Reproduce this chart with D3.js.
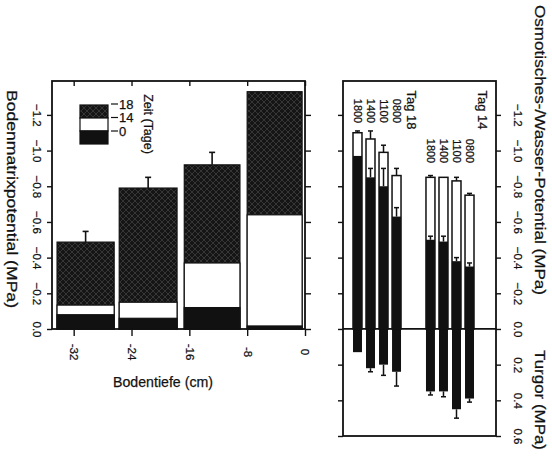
<!DOCTYPE html>
<html>
<head>
<meta charset="utf-8">
<script src="https://cdn.jsdelivr.net/npm/d3@7"></script>
<style>
  body { margin: 0; background: #fff; }
  text { font-family: "Liberation Sans", Arial, sans-serif; fill: #111; stroke: #111; stroke-width: 0.25px; }
</style>
</head>
<body>
<svg id="chart" width="552" height="459"></svg>
<script>
// ---- data: soil matric potential (left panel) ----
const depthTicks = [-32, -24, -16, -8, 0];
const layerTop = [-34.3, -25.7, -16.7, -8.0];
const layerBottom = [-26.4, -17.7, -9.0, -0.4];
const day0 = [-0.08, -0.06, -0.12, -0.017];
const day14 = [-0.134, -0.15, -0.37, -0.64];
const day18 = [-0.487, -0.79, -0.92, -1.33];
const day18Err = [0.06, 0.06, 0.07, 0];
const legendDays = ['18', '14', '0'];

// ---- data: osmotic / water potential and turgor (right panel) ----
const days = ['Tag 18', 'Tag 14'];
const times = ['1800', '1400', '1100', '0800'];
const osmotic = { 'Tag 18': [-1.10, -1.065, -0.99, -0.86], 'Tag 14': [-0.85, -0.85, -0.83, -0.75] };
const osmoticErr = { 'Tag 18': [0.01, 0.045, 0.04, 0.04], 'Tag 14': [0.01, 0.0, 0.02, 0.01] };
const water = { 'Tag 18': [-0.97, -0.85, -0.80, -0.63], 'Tag 14': [-0.50, -0.49, -0.38, -0.35] };
const waterErr = { 'Tag 18': [0, 0.05, 0.1, 0.05], 'Tag 14': [0.02, 0.03, 0.02, 0.02] };
const turgor = { 'Tag 18': [0.13, 0.22, 0.20, 0.24], 'Tag 14': [0.35, 0.35, 0.45, 0.39] };
const turgorErr = { 'Tag 18': [0, 0.02, 0.06, 0.08], 'Tag 14': [0.02, 0.03, 0.05, 0.02] };

const potTicks = [-1.2, -1.0, -0.8, -0.6, -0.4, -0.2, 0.0];
const rightTicks = [-1.2, -1.0, -0.8, -0.6, -0.4, -0.2, 0.0, 0.2, 0.4, 0.6];

const svg = d3.select('#chart');
const fmt = d3.format('.1f');
const ink = '#111';

// crosshatch fill used for day 18
const defs = svg.append('defs');
const pat = defs.append('pattern').attr('id', 'hatch')
    .attr('patternUnits', 'userSpaceOnUse').attr('width', 6).attr('height', 6);
pat.append('rect').attr('width', 6).attr('height', 6).attr('fill', '#151515');
pat.append('path').attr('d', 'M0,6 L6,0 M0,0 L6,6')
    .attr('stroke', '#8c8c8c').attr('stroke-width', 0.5).attr('opacity', 0.55);

function rotText(g, x, y, str, size) {
    return g.append('text')
        .attr('transform', `translate(${x},${y}) rotate(90)`)
        .attr('text-anchor', 'middle').attr('dy', '0.35em')
        .attr('font-size', size).text(str);
}

function rotateAxisText(g, dx, dy) {
    g.selectAll('text')
        .attr('x', 0).attr('y', 0).attr('dy', '0.35em')
        .attr('text-anchor', 'middle')
        .attr('font-size', 11.5)
        .attr('transform', `translate(${dx},${dy}) rotate(90)`);
}

function styleAxis(g) {
    g.select('.domain').remove();
    g.selectAll('line').attr('stroke', ink).attr('stroke-width', 1.4);
}

// ================= left panel =================
const xL = d3.scaleLinear().domain([-35, 0]).range([52, 305]);
const yL = d3.scaleLinear().domain([0, -1.39]).range([329, 81]);
const left = svg.append('g');

// day 18 (hatched), then day 14 (white), then day 0 (black) on top
const layers = [
    { vals: day18, fill: 'url(#hatch)' },
    { vals: day14, fill: '#fff' },
    { vals: day0, fill: ink }
];
layers.forEach(l => {
    left.selectAll(null).data(l.vals).enter().append('rect')
        .attr('x', (d, i) => xL(layerTop[i]))
        .attr('width', (d, i) => xL(layerBottom[i]) - xL(layerTop[i]))
        .attr('y', d => yL(d))
        .attr('height', d => yL(0) - yL(d))
        .attr('fill', l.fill).attr('stroke', ink).attr('stroke-width', 1.2);
});

// error bars on day 18
day18.forEach((v, i) => {
    if (!day18Err[i]) return;
    const cx = (xL(layerTop[i]) + xL(layerBottom[i])) / 2;
    left.append('line').attr('x1', cx).attr('x2', cx)
        .attr('y1', yL(v)).attr('y2', yL(v - day18Err[i]))
        .attr('stroke', ink).attr('stroke-width', 1.6);
    left.append('line').attr('x1', cx - 3).attr('x2', cx + 3)
        .attr('y1', yL(v - day18Err[i])).attr('y2', yL(v - day18Err[i]))
        .attr('stroke', ink).attr('stroke-width', 1.6);
});

// frame
left.append('rect').attr('x', xL(-35)).attr('y', yL(-1.39))
    .attr('width', xL(0) - xL(-35)).attr('height', yL(0) - yL(-1.39))
    .attr('fill', 'none').attr('stroke', ink).attr('stroke-width', 1.8);

const lAxisY = left.append('g').attr('transform', `translate(${xL(-35)},0)`)
    .call(d3.axisLeft(yL).tickValues(potTicks).tickSize(5).tickFormat(fmt));
styleAxis(lAxisY);
rotateAxisText(lAxisY, -15, 0);

const lAxisY2 = left.append('g').attr('transform', `translate(${xL(0)},0)`)
    .call(d3.axisRight(yL).tickValues(potTicks).tickSize(6).tickFormat(''));
styleAxis(lAxisY2);

const lAxisX = left.append('g').attr('transform', `translate(0,${yL(0)})`)
    .call(d3.axisBottom(xL).tickValues(depthTicks).tickSize(7).tickFormat(d => d === 0 ? '0' : '-' + Math.abs(d)));
styleAxis(lAxisX);
rotateAxisText(lAxisX, 0, 23);

const lAxisTop = left.append('g').attr('transform', `translate(0,${yL(-1.39)})`)
    .call(d3.axisBottom(xL).tickValues(depthTicks).tickSize(5).tickFormat(''));
styleAxis(lAxisTop);

rotText(left, 12, 199, 'Bodenmatrixpotential (MPa)', 15)
    .attr('textLength', 218).attr('lengthAdjust', 'spacingAndGlyphs');
left.append('text').attr('x', 163).attr('y', 387).attr('text-anchor', 'middle')
    .attr('font-size', 15).attr('textLength', 100).attr('lengthAdjust', 'spacingAndGlyphs')
    .text('Bodentiefe (cm)');

// legend
const legFills = ['url(#hatch)', '#fff', ink];
const leg = left.append('g');
legFills.forEach((f, i) => {
    leg.append('rect').attr('x', 80).attr('y', 105 + i * 13).attr('width', 28).attr('height', 13)
        .attr('fill', f).attr('stroke', ink).attr('stroke-width', 1.2);
});
legendDays.forEach((t, i) => {
    const y = 104 + i * 13.5;
    leg.append('line').attr('x1', 111).attr('x2', 118).attr('y1', y).attr('y2', y)
        .attr('stroke', ink).attr('stroke-width', 1.2);
    leg.append('text').attr('x', 119).attr('y', y).attr('dy', '0.35em')
        .attr('font-size', 13).text(t);
});
rotText(leg, 148, 124, 'Zeit (Tage)', 12.5);

// ================= right panel =================
const yR = d3.scaleLinear().domain([0.6, -1.39]).range([436, 81]);
const xDay = d3.scaleBand().domain(days).range([353, 474]).paddingInner(0.342);
const xTime = d3.scaleBand().domain(times).range([0, xDay.bandwidth()]).paddingInner(0.31);
const right = svg.append('g');
const bw = xTime.bandwidth();

function errBar(g, cx, v, e, dir) {
    if (!e) return;
    const end = v + dir * e;
    g.append('line').attr('x1', cx).attr('x2', cx).attr('y1', yR(v)).attr('y2', yR(end))
        .attr('stroke', ink).attr('stroke-width', 1.5);
    g.append('line').attr('x1', cx - 2.5).attr('x2', cx + 2.5).attr('y1', yR(end)).attr('y2', yR(end))
        .attr('stroke', ink).attr('stroke-width', 1.5);
}

days.forEach(day => {
    const g = right.append('g').attr('transform', `translate(${xDay(day)},0)`);
    // osmotic potential: open bar
    g.selectAll(null).data(osmotic[day]).enter().append('rect')
        .attr('x', (d, i) => xTime(times[i])).attr('width', bw)
        .attr('y', d => yR(d)).attr('height', d => yR(0) - yR(d))
        .attr('fill', '#fff').attr('stroke', ink).attr('stroke-width', 1.5);
    // water potential and turgor: solid bar
    g.selectAll(null).data(water[day]).enter().append('rect')
        .attr('x', (d, i) => xTime(times[i])).attr('width', bw)
        .attr('y', d => yR(d)).attr('height', (d, i) => yR(turgor[day][i]) - yR(d))
        .attr('fill', ink);
    times.forEach((t, i) => {
        const cx = xTime(t) + bw / 2;
        errBar(g, cx, osmotic[day][i], osmoticErr[day][i], -1);
        errBar(g, cx, water[day][i], waterErr[day][i], -1);
        errBar(g, cx, turgor[day][i], turgorErr[day][i], 1);
    });
    // time labels
    const labelY = day === 'Tag 18' ? 111 : 151;
    times.forEach(t => rotText(g, xTime(t) + bw / 2 + 0.5, labelY, t, 11));
});

rotText(right, 412, 110, 'Tag 18', 13);
rotText(right, 483, 110, 'Tag 14', 13);

// zero line
right.append('line').attr('x1', 343).attr('x2', 496).attr('y1', yR(0)).attr('y2', yR(0))
    .attr('stroke', ink).attr('stroke-width', 1.8);

// frame
right.append('rect').attr('x', 343).attr('y', yR(-1.39))
    .attr('width', 496 - 343).attr('height', yR(0.6) - yR(-1.39))
    .attr('fill', 'none').attr('stroke', ink).attr('stroke-width', 1.8);

const rAxisL = right.append('g').attr('transform', 'translate(343,0)')
    .call(d3.axisLeft(yR).tickValues(rightTicks).tickSize(5).tickFormat(''));
styleAxis(rAxisL);
const rAxisR = right.append('g').attr('transform', 'translate(496,0)')
    .call(d3.axisRight(yR).tickValues(rightTicks).tickSize(5).tickFormat(fmt));
styleAxis(rAxisR);
rotateAxisText(rAxisR, 22, 0);

rotText(right, 540, 150, 'Osmotisches-/Wasser-Potential (MPa)', 15)
    .attr('textLength', 290).attr('lengthAdjust', 'spacingAndGlyphs');
rotText(right, 540, 400, 'Turgor (MPa)', 15)
    .attr('textLength', 100).attr('lengthAdjust', 'spacingAndGlyphs');
</script>
</body>
</html>
